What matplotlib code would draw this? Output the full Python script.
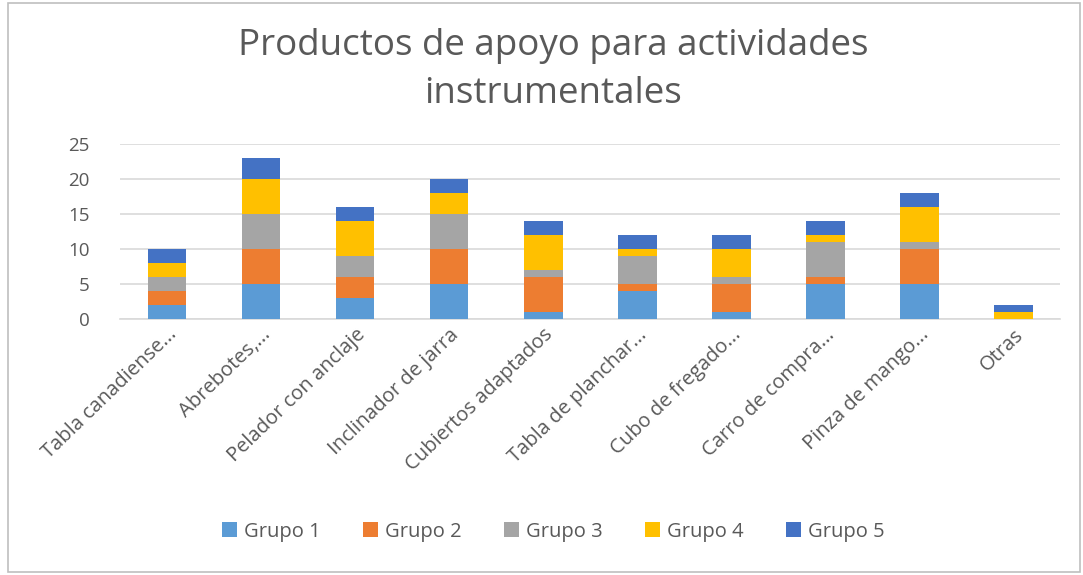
import matplotlib
matplotlib.use('Agg')
import matplotlib.pyplot as plt
from matplotlib.patches import Rectangle
import numpy as np

plt.rcParams['font.family'] = ['Open Sans', 'DejaVu Sans']

categories = ['Tabla canadiense...', 'Abrebotes,...', 'Pelador con anclaje',
              'Inclinador de jarra', 'Cubiertos adaptados', 'Tabla de planchar...',
              'Cubo de fregado...', 'Carro de compra...', 'Pinza de mango...', 'Otras']
series_names = ['Grupo 1', 'Grupo 2', 'Grupo 3', 'Grupo 4', 'Grupo 5']
grupo1 = [2, 5, 3, 5, 1, 4, 1, 5, 5, 0]
grupo2 = [2, 5, 3, 5, 5, 1, 4, 1, 5, 0]
grupo3 = [2, 5, 3, 5, 1, 4, 1, 5, 1, 0]
grupo4 = [2, 5, 5, 3, 5, 1, 4, 1, 5, 1]
grupo5 = [2, 3, 2, 2, 2, 2, 2, 2, 2, 1]
yticks = [0, 5, 10, 15, 20, 25]

colors = ['#5B9BD5', '#ED7D31', '#A5A5A5', '#FFC000', '#4472C4']
text_gray = '#595959'

fig = plt.figure(figsize=(10.83, 5.75), dpi=100)
ax = fig.add_axes([0.111, 0.445, 0.868, 0.305])

x = np.arange(len(categories))
bottom = np.zeros(len(categories))
for name, vals, c in zip(series_names,
                         [grupo1, grupo2, grupo3, grupo4, grupo5], colors):
    vals = np.array(vals, dtype=float)
    ax.bar(x, vals, width=0.41, bottom=bottom, color=c, label=name, zorder=3)
    bottom += vals

ax.set_xlim(-0.5, len(categories) - 0.5)
ax.set_ylim(0, 25)
ax.set_yticks(yticks)
ax.set_yticklabels([str(v) for v in yticks], fontsize=13.5, color=text_gray)
ax.yaxis.grid(True, color='#D9D9D9', linewidth=1.2, zorder=0)
ax.tick_params(axis='y', length=0, pad=22)
ax.tick_params(axis='x', length=0, pad=4)
ax.set_xticks(x)
ax.set_xticklabels(categories, rotation=44, ha='right', rotation_mode='anchor',
                   fontsize=14.5, color=text_gray)
for s in ['top', 'right', 'left']:
    ax.spines[s].set_visible(False)
ax.spines['bottom'].set_color('#D9D9D9')
ax.spines['bottom'].set_linewidth(1.2)

fig.text(0.511, 0.878, 'Productos de apoyo para actividades\ninstrumentales',
         ha='center', va='center', fontsize=26.5, color=text_gray, linespacing=1.45)

fig.legend(loc='center', bbox_to_anchor=(0.511, 0.075), ncol=5, frameon=False,
           fontsize=14.5, labelcolor=text_gray, handlelength=0.75, handleheight=0.75,
           handletextpad=0.35, columnspacing=2.1)

fig.patches.append(Rectangle((0.007, 0.005), 0.99, 0.99, transform=fig.transFigure,
                             fill=False, edgecolor='#BFBFBF', linewidth=1.2))

fig.savefig('out.png', dpi=100)
